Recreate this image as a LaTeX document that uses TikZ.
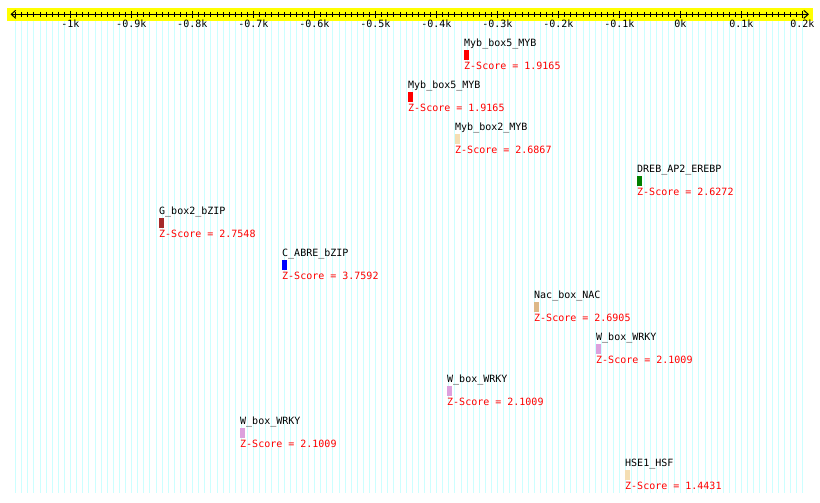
\documentclass[tikz,border=0pt]{standalone}
\usepackage{fontspec}
\setmonofont{DejaVu Sans Mono}
\usetikzlibrary{arrows.meta, positioning}
\definecolor{gridcyan}{RGB}{204,255,255}
\definecolor{bandyellow}{RGB}{255,255,0}
\definecolor{mywheat}{RGB}{245,222,179}
\definecolor{mygreen}{RGB}{0,128,0}
\definecolor{mybrown}{RGB}{165,42,42}
\definecolor{myburly}{RGB}{222,184,135}
\definecolor{myplum}{RGB}{221,160,221}
% position (bp) -> x on the page
\newcommand{\bpx}[1]{680.3+0.61*#1}
\tikzset{
  motiflabel/.style={
    inner sep=0,
    text height=7pt,
    text depth=2pt,
    anchor=base west,
    font=\ttfamily\fontsize{10}{10}\selectfont
  },
  zscore/.style={
    motiflabel,
    text=red
  },
  motifbar/.style={
    inner sep=0,
    minimum width=4.5pt,
    minimum height=10pt
  },
  ticklabel/.style={
    motiflabel,
    anchor=base
  }
}
\begin{document}
\begin{tikzpicture}[x=1pt, y=-1pt]
  \useasboundingbox[fill=white] (0,0) rectangle (820,503);

  % Grille
  \foreach \v in {-1090,-1080,...,200}
    \draw[gridcyan] ({\bpx{\v}},21) -- ({\bpx{\v}},493);

  % Axe
  \fill[bandyellow] (7,8) rectangle (813,21);
  \coordinate (axl) at (10.5,14.3);
  \coordinate (axr) at (809,14.3);
  \draw[line width=1pt, {Straight Barb[length=4.5pt,width=8pt]}-{Straight Barb[length=4.5pt,width=8pt]}] (axl) -- (axr);
  \foreach \v in {-1090,-1080,...,190}
    \draw ({\bpx{\v}},12) -- ({\bpx{\v}},16.7);
  \foreach \v/\t in {-1000/-1k,-900/-0.9k,-800/-0.8k,-700/-0.7k,-600/-0.6k,-500/-0.5k,-400/-0.4k,-300/-0.3k,-200/-0.2k,-100/-0.1k,0/0k,100/0.1k,200/0.2k}{
    \draw ({\bpx{\v}},10.8) -- ({\bpx{\v}},17.8);
    \node[ticklabel] (t\v) at ({\bpx{\v}},28) {\t};
  }

  % Motifs
  \node[motiflabel] (lab1) at (464,46.5) {Myb\_box5\_MYB};
  \node[motifbar, fill=red, below=1pt of lab1.south west, anchor=north west] (bar1) {};
  \node[zscore, below=2.5pt of bar1.south west, anchor=north west] (zs1) {Z-Score = 1.9165};

  \node[motiflabel] (lab2) at (408,88.5) {Myb\_box5\_MYB};
  \node[motifbar, fill=red, below=1pt of lab2.south west, anchor=north west] (bar2) {};
  \node[zscore, below=2.5pt of bar2.south west, anchor=north west] (zs2) {Z-Score = 1.9165};

  \node[motiflabel] (lab3) at (455,130.5) {Myb\_box2\_MYB};
  \node[motifbar, fill=mywheat, below=1pt of lab3.south west, anchor=north west] (bar3) {};
  \node[zscore, below=2.5pt of bar3.south west, anchor=north west] (zs3) {Z-Score = 2.6867};

  \node[motiflabel] (lab4) at (637,172.5) {DREB\_AP2\_EREBP};
  \node[motifbar, fill=mygreen, below=1pt of lab4.south west, anchor=north west] (bar4) {};
  \node[zscore, below=2.5pt of bar4.south west, anchor=north west] (zs4) {Z-Score = 2.6272};

  \node[motiflabel] (lab5) at (159,214.5) {G\_box2\_bZIP};
  \node[motifbar, fill=mybrown, below=1pt of lab5.south west, anchor=north west] (bar5) {};
  \node[zscore, below=2.5pt of bar5.south west, anchor=north west] (zs5) {Z-Score = 2.7548};

  \node[motiflabel] (lab6) at (282,256.5) {C\_ABRE\_bZIP};
  \node[motifbar, fill=blue, below=1pt of lab6.south west, anchor=north west] (bar6) {};
  \node[zscore, below=2.5pt of bar6.south west, anchor=north west] (zs6) {Z-Score = 3.7592};

  \node[motiflabel] (lab7) at (534,298.5) {Nac\_box\_NAC};
  \node[motifbar, fill=myburly, below=1pt of lab7.south west, anchor=north west] (bar7) {};
  \node[zscore, below=2.5pt of bar7.south west, anchor=north west] (zs7) {Z-Score = 2.6905};

  \node[motiflabel] (lab8) at (596,340.5) {W\_box\_WRKY};
  \node[motifbar, fill=myplum, below=1pt of lab8.south west, anchor=north west] (bar8) {};
  \node[zscore, below=2.5pt of bar8.south west, anchor=north west] (zs8) {Z-Score = 2.1009};

  \node[motiflabel] (lab9) at (447,382.5) {W\_box\_WRKY};
  \node[motifbar, fill=myplum, below=1pt of lab9.south west, anchor=north west] (bar9) {};
  \node[zscore, below=2.5pt of bar9.south west, anchor=north west] (zs9) {Z-Score = 2.1009};

  \node[motiflabel] (lab10) at (240,424.5) {W\_box\_WRKY};
  \node[motifbar, fill=myplum, below=1pt of lab10.south west, anchor=north west] (bar10) {};
  \node[zscore, below=2.5pt of bar10.south west, anchor=north west] (zs10) {Z-Score = 2.1009};

  \node[motiflabel] (lab11) at (625,466.5) {HSE1\_HSF};
  \node[motifbar, fill=mywheat, below=1pt of lab11.south west, anchor=north west] (bar11) {};
  \node[zscore, below=2.5pt of bar11.south west, anchor=north west] (zs11) {Z-Score = 1.4431};
\end{tikzpicture}
\end{document}
